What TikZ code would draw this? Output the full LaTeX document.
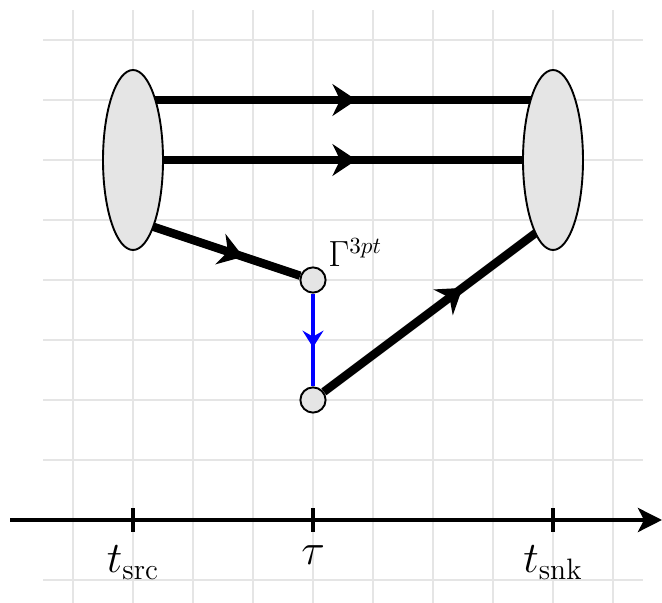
\documentclass[tikz,border=0pt]{standalone}
\usepackage{amsmath}
\usepackage{xcolor}
\usepackage{tikz}
\usetikzlibrary{arrows.meta,positioning,shapes.geometric,decorations.markings}

\begin{document}
\begin{tikzpicture}[
    gridline/.style={draw=black!10, line width=1pt},
    blob/.style={draw, ellipse, fill=black!10, line width=0.9pt, inner sep=0pt,
        minimum width=10mm, minimum height=30mm},
    vertex/.style={draw, circle, fill=black!10, line width=0.9pt, inner sep=0pt,
        minimum size=4.2mm},
    quark/.style={line width=4pt, draw=black},
    current/.style={line width=2pt, draw=blue},
    midarrow/.style={postaction={decorate, decoration={markings,
        mark=at position #1 with {\arrow{Stealth[length=4mm, width=5.3mm, inset=1.3mm]}}}}},
    smallarrow/.style={postaction={decorate, decoration={markings,
        mark=at position #1 with {\arrow{Stealth[length=2.8mm, width=3.5mm, inset=1mm]}}}}},
    timeaxis/.style={line width=2pt, -{Stealth[length=4mm, width=4mm, inset=1mm]}},
    tick/.style={line width=2pt},
    timelabel/.style={anchor=north, inner sep=2pt, font=\fontsize{20}{24}\selectfont}
]
\useasboundingbox (-2.2167,-1.3833) rectangle (8.8167,8.6667);
\draw[gridline] (-1.5,-1.5) grid (8.5,8.5);

% time axis
\coordinate (axisstart) at (-2.05,0);
\coordinate (axisend) at (8.8167,0);
\draw[timeaxis] (axisstart) -- (axisend);
\foreach \t/\name/\lab in {0/src/{$t_{\text{src}}$}, 3/ins/{$\tau$}, 7/snk/{$t_{\text{snk}}$}} {
    \draw[tick] (\t,-0.2) -- (\t,0.2);
    \node[timelabel] (lab\name) at (\t,-0.35) {\lab};
}

% quark lines
\coordinate (srctop) at (0,7);
\coordinate (srcmid) at (0,6);
\coordinate (srclow) at (0,5);
\coordinate (snktop) at (7,7);
\coordinate (snkmid) at (7,6);
\coordinate (snklow) at (7,5);
\node[vertex] (vtop) at (3,4) {};
\node[vertex] (vbot) at (3,2) {};
\node[anchor=base west, inner sep=0pt, font=\fontsize{16}{19}\selectfont] (gamma) at (3.25,4.22) {$\Gamma^{3pt}$};

\draw[quark, midarrow=0.532] (srctop) -- (snktop);
\draw[quark, midarrow=0.532] (srcmid) -- (snkmid);
\draw[quark, midarrow=0.66] (srclow) -- (vtop);
\draw[quark, midarrow=0.605] (vbot) -- (snklow);
\draw[current, smallarrow=0.58] (vtop) -- (vbot);

% source and sink
\node[blob] (src) at (0,6) {};
\node[blob] (snk) at (7,6) {};
\end{tikzpicture}
\end{document}
